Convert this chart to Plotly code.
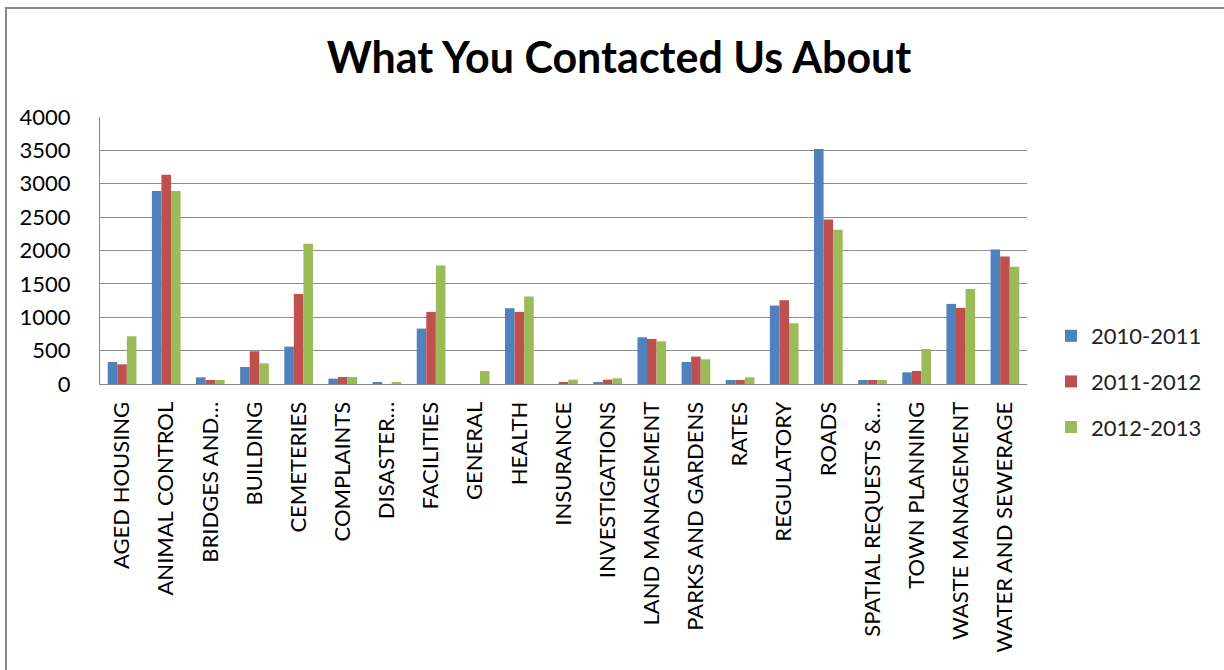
import plotly.graph_objects as go

categories = [
    "AGED HOUSING", "ANIMAL CONTROL", "BRIDGES AND…", "BUILDING", "CEMETERIES",
    "COMPLAINTS", "DISASTER…", "FACILITIES", "GENERAL", "HEALTH", "INSURANCE",
    "INVESTIGATIONS", "LAND MANAGEMENT", "PARKS AND GARDENS", "RATES",
    "REGULATORY", "ROADS", "SPATIAL REQUESTS &…", "TOWN PLANNING",
    "WASTE MANAGEMENT", "WATER AND SEWERAGE",
]

y2010_2011 = [330, 2890, 100, 255, 560, 80, 25, 830, 0, 1135, 0, 25, 700, 330, 60,
              1175, 3520, 60, 175, 1200, 2015]
y2011_2012 = [295, 3135, 60, 490, 1350, 105, 0, 1080, 0, 1080, 25, 65, 675, 410, 60,
              1255, 2465, 60, 195, 1140, 1910]
y2012_2013 = [715, 2890, 60, 310, 2100, 105, 25, 1775, 195, 1310, 65, 85, 640, 370, 100,
              910, 2310, 60, 525, 1425, 1755]

series = [
    ("2010-2011", y2010_2011, "#4F81BD"),
    ("2011-2012", y2011_2012, "#C0504D"),
    ("2012-2013", y2012_2013, "#9BBB59"),
]

y_ticks = [0, 500, 1000, 1500, 2000, 2500, 3000, 3500, 4000]

FONT = "Lato"
W, H = 1224, 670
L, R, T, B = 100, 197, 117, 286

fig = go.Figure()
for i, (name, vals, color) in enumerate(series):
    fig.add_trace(go.Bar(
        x=categories, y=vals, name=name, legendgroup=f"g{i}",
        marker=dict(color=color, line=dict(width=0)),
    ))

pw = W - L - R
ph = H - T - B


def px_x(x):
    return (x - L) / pw


def px_y(y):
    return (H - B - y) / ph


fig.update_layout(
    width=W, height=H,
    margin=dict(l=L, r=R, t=T, b=B, autoexpand=False),
    paper_bgcolor="white", plot_bgcolor="white",
    barmode="group", bargap=0.35, bargroupgap=0,
    title=dict(text="<b>What You Contacted Us About</b>", x=619 / W,
               xanchor="center", y=1 - 58 / H, yanchor="middle",
               font=dict(family=FONT, size=43, color="black")),
    font=dict(family=FONT, color="black"),
    legend=dict(x=px_x(1051), xanchor="left", y=px_y(315), yanchor="top",
                font=dict(size=22, color="#222"), tracegroupgap=14,
                bgcolor="rgba(0,0,0,0)", itemwidth=30),
    showlegend=True,
    shapes=[
        dict(type="line", xref="paper", yref="paper", x0=px_x(5), x1=px_x(1230),
             y0=px_y(8), y1=px_y(8), line=dict(color="#888", width=2)),
        dict(type="line", xref="paper", yref="paper", x0=px_x(6), x1=px_x(6),
             y0=px_y(8), y1=px_y(680), line=dict(color="#888", width=2)),
    ],
)

fig.update_xaxes(
    type="category", tickangle=-90, tickfont=dict(size=22, color="black"),
    showline=True, linecolor="#888", linewidth=1, showgrid=False,
    ticks="", ticklabelstandoff=8, automargin=False,
)
fig.update_yaxes(
    range=[0, 4000], tickvals=y_ticks, tickfont=dict(size=22, color="black"),
    showgrid=True, gridcolor="#8C8C8C", gridwidth=1,
    showline=True, linecolor="#888", linewidth=1, zeroline=False,
    ticks="", ticklabelstandoff=24, automargin=False,
)

fig.write_html("out.html")
